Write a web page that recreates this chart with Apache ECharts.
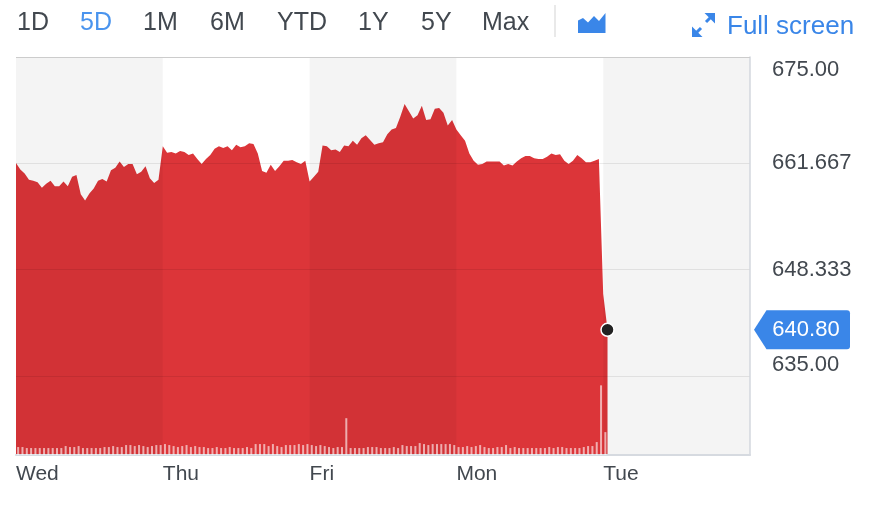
<!DOCTYPE html>
<html><head><meta charset="utf-8">
<script src="https://cdn.jsdelivr.net/npm/echarts@6/dist/echarts.min.js"></script>
<style>html,body{margin:0;padding:0;background:#fff}#c{width:896px;height:510px}</style>
</head><body><div id="c"></div><script>
// ---- data ----
const days = ['Wed', 'Thu', 'Fri', 'Mon', 'Tue'];
const ranges = ['1D', '5D', '1M', '6M', 'YTD', '1Y', '5Y', 'Max'];
const wedPrice = [661.7, 660.9, 660.4, 659.6, 659.5, 659.3, 658.6, 659.1, 659.5, 658.8, 658.8, 659.4, 658.8, 660.0, 660.2, 657.8, 657.0, 657.9, 658.5, 659.5, 659.7, 659.4, 660.8, 661.1, 661.9, 661.2, 661.6, 661.6, 660.3, 660.6, 661.3, 659.8, 659.2, 659.6];
const thuPrice = [663.8, 663.0, 663.1, 662.9, 663.2, 663.1, 662.7, 662.9, 662.2, 661.6, 662.2, 662.7, 663.5, 663.8, 663.6, 663.8, 663.3, 664.0, 663.7, 663.8, 664.2, 664.1, 662.9, 660.7, 660.5, 661.5, 660.7, 661.3, 662.0, 662.0, 662.1, 661.8, 661.6, 662.0];
const friPrice = [659.4, 660.0, 660.6, 663.9, 663.8, 663.3, 663.4, 663.1, 663.9, 663.8, 664.5, 664.0, 664.8, 665.2, 664.6, 664.0, 664.2, 664.3, 665.3, 665.9, 666.1, 667.5, 669.1, 668.2, 667.3, 667.7, 668.9, 667.1, 667.2, 668.5, 668.6, 668.0, 666.4, 667.1];
const monPrice = [665.9, 665.2, 664.5, 662.9, 662.0, 661.5, 661.6, 661.9, 661.9, 661.9, 661.9, 661.4, 661.6, 661.4, 661.9, 662.3, 662.6, 662.6, 662.3, 662.2, 662.2, 662.5, 662.9, 662.7, 662.8, 662.0, 661.6, 662.0, 662.7, 662.3, 661.8, 661.8, 662.0, 662.2];
const tuePrice = [645.3, 640.8];
const wedVol = [8, 8, 7, 7, 7, 7, 7, 7, 7, 7, 7, 9, 8, 8, 9, 7, 7, 7, 7, 7, 8, 8, 9, 8, 8, 10, 10, 9, 10, 9, 8, 9, 10, 10];
const thuVol = [11, 10, 9, 8, 9, 10, 8, 9, 8, 8, 7, 7, 8, 7, 7, 8, 7, 7, 7, 8, 7, 11, 11, 11, 9, 11, 9, 8, 10, 10, 10, 11, 10, 11];
const friVol = [10, 9, 10, 9, 8, 7, 8, 8, 37, 7, 7, 7, 7, 8, 8, 8, 7, 7, 7, 8, 7, 10, 9, 9, 9, 12, 11, 10, 11, 11, 11, 11, 11, 10];
const monVol = [8, 8, 9, 8, 9, 10, 8, 7, 7, 8, 8, 10, 7, 8, 7, 7, 7, 7, 7, 7, 7, 8, 7, 8, 8, 7, 7, 7, 7, 8, 9, 9, 13, 70];
const tueVol = [23];
const yTicks = [635, 648.333, 661.667, 675];
const yTickLabels = ['635.00', '648.333', '661.667', '675.00'];

// ---- build ----
const SLOTS = 34;
const prices = [wedPrice, thuPrice, friPrice, monPrice, tuePrice];
const vols = [wedVol, thuVol, friVol, monVol, tueVol];
const priceData = [], volData = [];
prices.forEach((arr, d) => arr.forEach((v, i) => priceData.push([d * SLOTS + i, v])));
vols.forEach((arr, d) => arr.forEach((v, i) => volData.push([d * SLOTS + i + 0.5, v])));
const last = priceData[priceData.length - 1];

const FONT = '"Liberation Sans", Arial, sans-serif';
const TXT = '#42484f';
const BLUE = '#3a86e8';

const chart = echarts.init(document.getElementById('c'), null, {renderer: 'canvas'});

const toolbarX = [17, 80, 143, 210, 277, 358, 421, 482];
const graphics = [];
ranges.forEach((r, i) => graphics.push({
  type: 'text', x: toolbarX[i], y: 23,
  style: {text: r, fill: r === '5D' ? '#4a94ee' : TXT, fontSize: 25, fontFamily: FONT, verticalAlign: 'middle'}
}));
graphics.push(
  {type: 'line', shape: {x1: 555, y1: 5, x2: 555, y2: 37}, style: {stroke: '#e2e2e2', lineWidth: 1.5}},
  {type: 'polygon', shape: {points: [[578, 33], [578, 20.5], [583, 18], [588, 22.5], [594, 16], [599, 21], [605.5, 13], [605.5, 33]]}, style: {fill: BLUE}},
  {type: 'polygon', shape: {points: [[715, 13], [715, 23.5], [704.5, 13]]}, style: {fill: BLUE}},
  {type: 'polygon', shape: {points: [[692, 37], [692, 26.5], [702.5, 37]]}, style: {fill: BLUE}},
  {type: 'line', shape: {x1: 706, y1: 22, x2: 711, y2: 17}, style: {stroke: BLUE, lineWidth: 3}},
  {type: 'line', shape: {x1: 696, y1: 33, x2: 701, y2: 28}, style: {stroke: BLUE, lineWidth: 3}},
  {type: 'text', x: 727, y: 27, style: {text: 'Full screen', fill: BLUE, fontSize: 26, fontFamily: FONT, verticalAlign: 'middle'}},
  {type: 'line', z: 20, shape: {x1: 16, y1: 57.5, x2: 750, y2: 57.5}, style: {stroke: '#cccccc', lineWidth: 1}}
);

const option = {
  animation: false,
  backgroundColor: '#fff',
  grid: {left: 16, right: 146, top: 57, bottom: 55},
  xAxis: {
    type: 'value', min: 0, max: days.length * SLOTS, interval: SLOTS, z: 5,
    axisLine: {show: true, onZero: false, lineStyle: {color: '#d6dae0', width: 2}},
    axisTick: {show: false},
    splitLine: {show: false},
    splitArea: {show: true, areaStyle: {color: ['rgba(0,0,0,0.045)', 'rgba(255,255,255,0)']}},
    axisLabel: {
      showMaxLabel: false, align: 'left', margin: 9, color: TXT, fontSize: 21, fontFamily: FONT,
      formatter: v => days[Math.round(v / SLOTS)] || ''
    }
  },
  yAxis: [{
    type: 'value', position: 'right', min: 625.1, max: 675, z: 5,
    axisLine: {show: true, onZero: false, lineStyle: {color: '#d3d7de', width: 1.5}},
    axisTick: {show: false, customValues: yTicks},
    splitLine: {show: true, lineStyle: {color: 'rgba(0,0,0,0.08)', width: 1}},
    axisLabel: {
      customValues: yTicks, margin: 22, color: TXT, fontSize: 22, fontFamily: FONT,
      formatter: v => {
        let i = 0;
        yTicks.forEach((t, k) => { if (Math.abs(t - v) < Math.abs(yTicks[i] - v)) i = k; });
        const s = yTickLabels[i];
        if (i === yTicks.length - 1) return '{dn|' + s + '}';
        if (i === 0) return '{up|' + s + '}';
        return s;
      },
      rich: {
        dn: {padding: [26, 0, 0, 0], color: TXT, fontSize: 22, fontFamily: FONT},
        up: {padding: [0, 0, 22, 0], color: TXT, fontSize: 22, fontFamily: FONT}
      }
    }
  }, {
    type: 'value', min: 0, max: 400, show: false, splitLine: {show: false},
    axisLine: {show: false, onZero: false}
  }],
  series: [{
    type: 'line', data: priceData, yAxisIndex: 0, z: 2,
    showSymbol: false, symbol: 'none',
    lineStyle: {width: 0},
    areaStyle: {color: '#dc3539', opacity: 1, origin: 'start'}
  }, {
    type: 'bar', data: volData, yAxisIndex: 1, z: 6, barWidth: 2,
    itemStyle: {color: 'rgba(255,255,255,0.6)'}
  }, {
    type: 'scatter', data: [last], yAxisIndex: 0, z: 10,
    symbolSize: 13,
    itemStyle: {color: '#222222', borderColor: '#ffffff', borderWidth: 1.5, opacity: 1},
    markPoint: {
      silent: true,
      data: [{coord: [days.length * SLOTS, last[1]]}],
      symbol: 'path://M0,19.5L12.5,0L93,0Q96,0 96,3L96,36Q96,39 93,39L12.5,39Z',
      symbolSize: [96, 39],
      symbolOffset: [52, 0],
      itemStyle: {color: BLUE},
      label: {show: true, position: 'inside', offset: [4, 0], color: '#fff', fontSize: 22, fontFamily: FONT,
        formatter: () => last[1].toFixed(2)}
    }
  }],
  graphic: graphics
};
chart.setOption(option);
</script></body></html>
